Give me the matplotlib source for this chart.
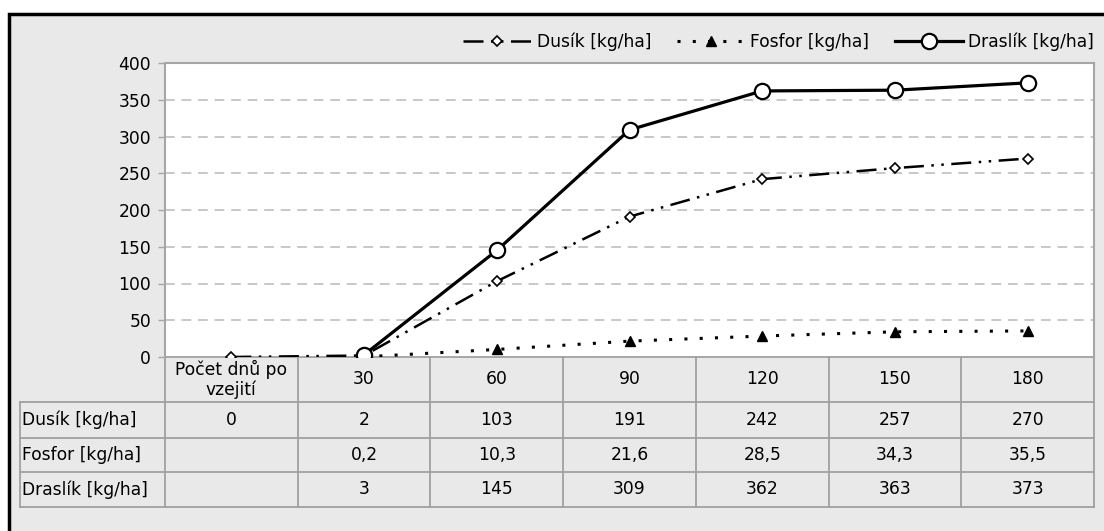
import matplotlib
matplotlib.use("Agg")
import matplotlib.pyplot as plt
import matplotlib.transforms as mtransforms
import numpy as np
from matplotlib.patches import Rectangle

# data
kategorie = ["Počet dnů po\nvzejití", "30", "60", "90", "120", "150", "180"]
dusik = [0, 2, 103, 191, 242, 257, 270]
fosfor = [np.nan, 0.2, 10.3, 21.6, 28.5, 34.3, 35.5]
draslik = [np.nan, 3, 145, 309, 362, 363, 373]
popisky = ["Dusík [kg/ha]", "Fosfor [kg/ha]", "Draslík [kg/ha]"]
yticks = [0, 50, 100, 150, 200, 250, 300, 350, 400]


def fmt(v):
    if np.isnan(v):
        return ""
    if float(v).is_integer():
        return str(int(v))
    return str(v).replace(".", ",")


plt.rcParams["font.family"] = ["DejaVu Sans"]
FS = 12.3

W, H = 1104, 531
fig = plt.figure(figsize=(W / 100, H / 100), dpi=100)
fig.patch.set_facecolor("white")

# gray background with black frame (left + top)
fig.patches.append(Rectangle((9 / W, -0.1), 1.2, 1 - 14 / H + 0.1, transform=fig.transFigure,
                             facecolor="#e9e9e9", edgecolor="black", linewidth=2.5, zorder=-10))

L, R, T, B = 165, 1094, 63, 357
ax = fig.add_axes([L / W, 1 - B / H, (R - L) / W, (B - T) / H])
ax.set_facecolor("white")

x = np.arange(len(kategorie))

# grid
for y in yticks[1:-1]:
    ax.axhline(y, color="#c8c8c8", linewidth=1.4, linestyle=(0, (5, 3.5)), zorder=1)

ax.plot(x, dusik, color="black", linewidth=1.8, linestyle=(0, (8, 3, 1, 3, 1, 3)),
        marker="D", markersize=5, markerfacecolor="white", markeredgecolor="black",
        markeredgewidth=1.2, label=popisky[0], zorder=3)
ax.plot(x, fosfor, color="black", linewidth=2.2, linestyle=(0, (1, 4)),
        dash_capstyle="butt", marker="^", markersize=7, markerfacecolor="black",
        markeredgecolor="black", label=popisky[1], zorder=3)
ax.plot(x, draslik, color="black", linewidth=2.3, linestyle="-",
        marker="o", markersize=11, markerfacecolor="white", markeredgecolor="black",
        markeredgewidth=1.6, label=popisky[2], zorder=4)

ax.set_xlim(-0.5, len(kategorie) - 0.5)
ax.set_ylim(0, 400)
ax.set_yticks(yticks)
ax.set_xticks([])
ax.tick_params(axis="y", length=5, color="#a6a6a6", width=1, pad=5, labelsize=FS)
for s in ["left", "top", "right"]:
    ax.spines[s].set_color("#a6a6a6")
    ax.spines[s].set_linewidth(1.5)
ax.spines["bottom"].set_visible(False)

# data table under the plot (x in data units, y in axes fraction)
tr = mtransforms.blended_transform_factory(ax.transData, ax.transAxes)
row_px = [357, 402, 438, 472, 507]
ry = [(B - p) / (B - T) for p in row_px]
lab_left = -0.5 - (L - 20) / (R - L) * len(kategorie)
x0, x1 = -0.5, len(kategorie) - 0.5
lc = "#a0a0a0"
lw = 1.3

ax.plot([x0, x1], [ry[0], ry[0]], transform=tr, color=lc, lw=lw, clip_on=False)
for yy in ry[1:]:
    ax.plot([lab_left, x1], [yy, yy], transform=tr, color=lc, lw=lw, clip_on=False)
for i in range(len(kategorie) + 1):
    ax.plot([i - 0.5, i - 0.5], [ry[0], ry[-1]], transform=tr, color=lc, lw=lw, clip_on=False)
ax.plot([lab_left, lab_left], [ry[1], ry[-1]], transform=tr, color=lc, lw=lw, clip_on=False)

for i, k in enumerate(kategorie):
    ax.text(i, (ry[0] + ry[1]) / 2, k, transform=tr, ha="center", va="center",
            fontsize=FS, linespacing=1.1)

for j, (lab, row) in enumerate(zip(popisky, (dusik, fosfor, draslik))):
    yc = (ry[j + 1] + ry[j + 2]) / 2
    ax.text(lab_left + 0.015, yc, lab, transform=tr, ha="left", va="center", fontsize=FS)
    for i, v in enumerate(row):
        ax.text(i, yc, fmt(v), transform=tr, ha="center", va="center", fontsize=FS)

fig.legend(loc="center right", bbox_to_anchor=((R + 7) / W, 1 - 42 / H), ncol=3,
           frameon=False, fontsize=FS, handlelength=4.0, handletextpad=0.3,
           columnspacing=1.5, borderaxespad=0)

fig.savefig("out.png", dpi=100)
